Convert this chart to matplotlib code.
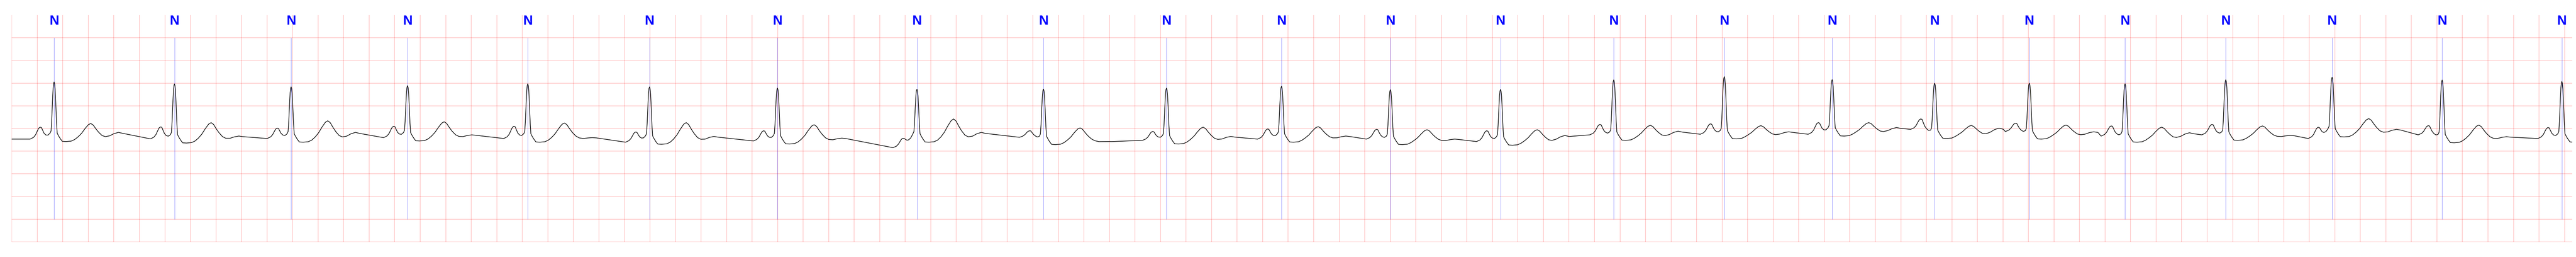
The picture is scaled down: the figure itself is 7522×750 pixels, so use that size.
import numpy as np
import matplotlib
matplotlib.use("Agg")
import matplotlib.pyplot as plt

# R peak times (s) of the annotated beats, all labelled N
r_times = [0.332, 1.275, 2.189, 3.101, 4.043, 4.997, 5.999, 7.092, 8.083, 9.047,
           9.948, 10.801, 11.664, 12.551, 13.417, 14.262, 15.065, 15.807, 16.557,
           17.346, 18.179, 19.041, 19.979]
beat_labels = ["N"] * len(r_times)

# levels (mV)
pre_lvl = [-0.235, -0.230, -0.222, -0.203, -0.222, -0.303, -0.276, -0.424, -0.195, -0.262,
           -0.235, -0.235, -0.289, -0.141, -0.128, -0.128, -0.020, -0.068, -0.168, -0.141,
           -0.222, -0.141, -0.222]
p_lvl = [0.028, 0.034, 0.007, 0.047, 0.047, -0.079, -0.052, -0.217, -0.052, -0.068,
         -0.012, -0.020, -0.052, 0.088, 0.101, 0.128, 0.209, 0.115, 0.055, 0.088,
         0.026, 0.061, 0.020]
r_lvl = [1.025, 0.982, 0.917, 0.944, 0.985, 0.917, 0.891, 0.864, 0.869, 0.891,
         0.931, 0.855, 0.860, 1.071, 1.143, 1.076, 0.998, 0.998, 0.985, 1.074,
         1.130, 1.068, 1.038]
st_lvl = [-0.289, -0.322, -0.303, -0.276, -0.303, -0.349, -0.343, -0.303, -0.357, -0.343,
          -0.303, -0.357, -0.370, -0.262, -0.230, -0.168, -0.222, -0.235, -0.303, -0.262,
          -0.187, -0.316, -0.303]
t_lvl = [0.109, 0.128, 0.169, 0.147, 0.120, 0.128, 0.082, 0.209, 0.012, 0.028,
         0.039, -0.028, -0.028, 0.069, 0.061, 0.128, 0.066, 0.074, 0.028, 0.055,
         0.217, 0.074, 0.000]
u_lvl = [-0.087, -0.168, -0.087, -0.141, -0.203, -0.176, -0.214, -0.087, -0.289, -0.176,
         -0.168, -0.235, -0.155, -0.060, -0.074, 0.020, 0.007, -0.074, -0.095, -0.155,
         -0.020, -0.182, -0.200]

# one beat shape, traced from the first beat (offsets in ms from R)
tmpl_ms = [-188, -161, -145, -131, -121, -110, -99, -89, -78, -64,
           -48, -32, -24, -19, -13, -8, -4, 0, 4, 8,
           13, 19, 24, 35, 48, 64, 94, 134, 161, 188,
           215, 241, 268, 287, 306, 327, 349, 376, 402, 435,
           469, 504, 537]
tmpl_pre = [1, 1, 1, 1, 1, 1, 1, 0.85, 0.7, 0.5, 0.25] + [0] * 32
tmpl_fixed = [0, 0.02, 0.04, 0.06, 0.07, 0.075, 0.075, 0.075, 0.075, 0.075,
              0.08, 0.12, 0.17, 0.18, 0.18, 0.17, 0.16, 0.16, 0.15, 0.15,
              0.14, 0.13, 0.12, 0.06, 0.0, -0.06, -0.065, -0.055, -0.02, 0] + [0] * 13
tmpl_p = [0, 0.1, 0.3, 0.65, 0.9, 1.0, 0.95, 0.6, 0.25, 0.05, 0] + [0] * 32
tmpl_r = [0] * 12 + [0, 0.2, 0.58, 0.86, 0.97, 1, 0.97, 0.86, 0.58, 0.2, 0] + [0] * 20
tmpl_t = [0] * 28 + [0, 0.12, 0.35, 0.65, 0.92, 1.0, 0.9, 0.65, 0.42, 0.2, 0.07, 0, 0, 0, 0]
tmpl_u = [0] * 37 + [0, 0.15, 0.45, 0.8, 1.0, 0.85]

P_PLATEAU = 0.075   # fixed level at P peak
R_PEDESTAL = 0.16   # fixed level at R peak
ST_DEPTH = 0.065
T_END = 20.06

off = np.array(tmpl_ms) / 1000.0
w_pre = np.array(tmpl_pre, dtype=float)
fixed = np.array(tmpl_fixed)
shape_p = np.array(tmpl_p)
shape_r = np.array(tmpl_r)
shape_t = np.array(tmpl_t)
shape_u = np.array(tmpl_u)

t_sig = [np.array([0.0])]
v_sig = [np.array([pre_lvl[0]])]
for i in range(len(r_times)):
    base_post = st_lvl[i] + ST_DEPTH
    p_amp = p_lvl[i] - pre_lvl[i] - P_PLATEAU
    r_amp = r_lvl[i] - base_post - R_PEDESTAL
    t_amp = t_lvl[i] - base_post
    u_amp = u_lvl[i] - base_post
    vals = (w_pre * pre_lvl[i] + (1 - w_pre) * base_post + fixed
            + p_amp * shape_p + r_amp * shape_r + t_amp * shape_t + u_amp * shape_u)
    t_sig.append(r_times[i] + off)
    v_sig.append(vals)
t_sig = np.concatenate(t_sig)
v_sig = np.concatenate(v_sig)

fig = plt.figure(figsize=(75.22, 7.5), dpi=100)
ax = fig.add_axes([34.3 / 7522, 1 - 705.7 / 750, (7511 - 34.3) / 7522, 661.7 / 750])

ax.plot(t_sig, v_sig, color="black", linewidth=1.3, zorder=3)
ax.vlines(r_times, -2.0, 2.0, color="blue", alpha=0.5, linewidth=0.75, zorder=2)
for t, lab in zip(r_times, beat_labels):
    ax.text(t, 2.5, lab, ha="center", va="top", color="blue", fontsize=28,
            fontweight="bold", family=["Liberation Sans", "DejaVu Sans"], clip_on=False)

ax.set_xlim(0, T_END)
ax.set_ylim(-2.5, 2.5)
ax.set_xticks(np.arange(0, T_END, 0.2))
ax.set_yticks(np.arange(-2.5, 2.5, 0.5))
ax.grid(True, color="red", alpha=0.25, linewidth=1.2)
ax.tick_params(left=False, bottom=False, labelleft=False, labelbottom=False)
for s in ax.spines.values():
    s.set_visible(False)

fig.savefig("out.png", dpi=100)
